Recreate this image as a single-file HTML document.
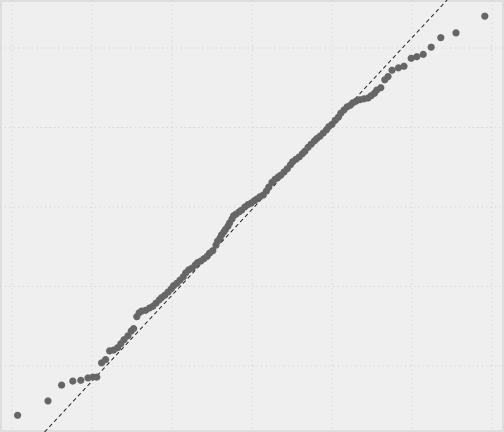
<!DOCTYPE html>
<html><head><meta charset="utf-8"><style>
html,body{margin:0;padding:0;background:#efefef;overflow:hidden;width:504px;height:432px;}
svg{display:block;font-family:"Liberation Sans",sans-serif;overflow:hidden;}
</style></head><body>
<svg id="chart" width="504" height="432" viewBox="0 0 504 432">
<rect x="1" y="1" width="502" height="430" fill="#efefef" stroke="#dedede" stroke-width="2"/>
<g id="grid"></g>
<g id="refline"></g>
<g id="pts"></g>
</svg>
<script>
const xTicks=[-3,-2,-1,0,1,2,3];
const yTicks=[-2,-1,0,1,2];
const theoretical=[-2.93,-2.55,-2.38,-2.24,-2.14,-2.05,-1.99,-1.94,-1.88,-1.83,-1.78,-1.73,-1.68,-1.64,-1.60,-1.55,-1.51,-1.48,-1.44,-1.41,-1.38,-1.33,-1.28,-1.24,-1.20,-1.16,-1.13,-1.09,-1.05,-1.01,-0.98,-0.94,-0.90,-0.86,-0.83,-0.79,-0.75,-0.71,-0.68,-0.64,-0.60,-0.56,-0.53,-0.49,-0.45,-0.43,-0.40,-0.38,-0.35,-0.33,-0.30,-0.28,-0.25,-0.23,-0.20,-0.16,-0.13,-0.09,-0.05,-0.01,0.03,0.06,0.10,0.14,0.18,0.21,0.25,0.29,0.33,0.36,0.40,0.44,0.48,0.51,0.55,0.59,0.63,0.66,0.70,0.74,0.78,0.81,0.85,0.89,0.93,0.96,1.00,1.04,1.08,1.11,1.15,1.19,1.23,1.26,1.30,1.35,1.40,1.45,1.49,1.53,1.56,1.61,1.66,1.70,1.75,1.83,1.90,1.99,2.06,2.14,2.24,2.36,2.55,2.91];
const sample=[-2.62,-2.44,-2.24,-2.19,-2.18,-2.15,-2.14,-2.14,-1.96,-1.92,-1.81,-1.80,-1.77,-1.72,-1.67,-1.62,-1.56,-1.53,-1.38,-1.33,-1.31,-1.30,-1.27,-1.25,-1.21,-1.17,-1.14,-1.11,-1.07,-1.03,-0.99,-0.96,-0.92,-0.88,-0.83,-0.79,-0.77,-0.73,-0.70,-0.68,-0.65,-0.62,-0.58,-0.55,-0.48,-0.43,-0.39,-0.35,-0.31,-0.28,-0.24,-0.20,-0.15,-0.11,-0.09,-0.06,-0.04,0.00,0.03,0.05,0.08,0.10,0.13,0.15,0.20,0.25,0.31,0.35,0.38,0.40,0.44,0.48,0.53,0.57,0.60,0.63,0.67,0.70,0.75,0.79,0.83,0.86,0.89,0.93,0.97,1.01,1.04,1.09,1.13,1.18,1.22,1.26,1.28,1.31,1.33,1.35,1.36,1.37,1.40,1.43,1.47,1.50,1.60,1.64,1.72,1.75,1.77,1.87,1.89,1.92,2.01,2.13,2.19,2.40];
const lineIntercept=-0.03, lineSlope=1.08;
const NS="http://www.w3.org/2000/svg";
const sx=v=>252+v*80;
const sy=v=>207-v*79.5;
const invY=p=>(207-p)/79.5;
const grid=document.getElementById('grid');
xTicks.forEach(t=>{
  const l=document.createElementNS(NS,'line');
  l.setAttribute('x1',sx(t));l.setAttribute('x2',sx(t));l.setAttribute('y1',0);l.setAttribute('y2',432);
  l.setAttribute('stroke','#dadada');l.setAttribute('stroke-dasharray','1.5,3');
  
  
  grid.appendChild(l);
});
yTicks.forEach(t=>{
  const l=document.createElementNS(NS,'line');
  l.setAttribute('y1',sy(t));l.setAttribute('y2',sy(t));l.setAttribute('x1',0);l.setAttribute('x2',504);
  l.setAttribute('stroke','#dadada');l.setAttribute('stroke-dasharray','1.5,3');
  
  
  grid.appendChild(l);
});
const rl=document.createElementNS(NS,'line');
const xa=(invY(432)-lineIntercept)/lineSlope;
const xb=(invY(0)-lineIntercept)/lineSlope;
rl.setAttribute('x1',sx(xa));rl.setAttribute('y1',sy(lineIntercept+lineSlope*xa));
rl.setAttribute('x2',sx(xb));rl.setAttribute('y2',sy(lineIntercept+lineSlope*xb));
rl.setAttribute('stroke','#222');rl.setAttribute('stroke-width','1');rl.setAttribute('stroke-dasharray','4,3');


document.getElementById('refline').appendChild(rl);
const pts=document.getElementById('pts');
theoretical.forEach((x,i)=>{
  const c=document.createElementNS(NS,'circle');
  c.setAttribute('cx',sx(x));c.setAttribute('cy',sy(sample[i]));c.setAttribute('r',3.6);
  c.setAttribute('fill','#666666');
  
  
  pts.appendChild(c);
});
</script>
</body></html>
